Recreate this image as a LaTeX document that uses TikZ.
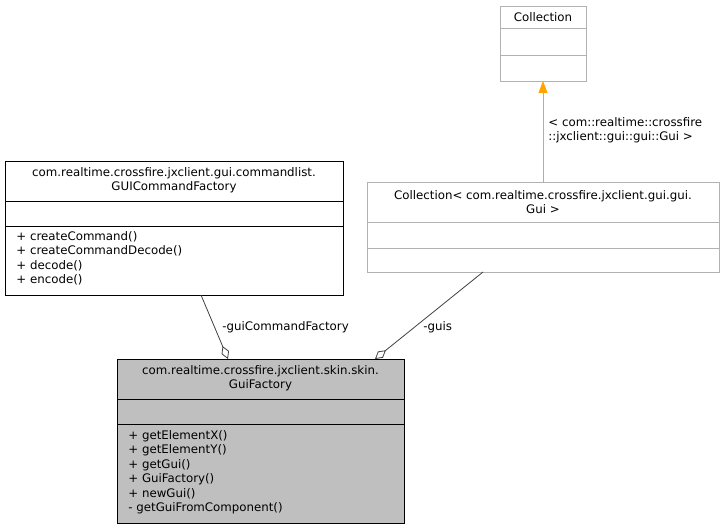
\documentclass[tikz,border=0pt]{standalone}
\usepackage{fontspec}
\setmainfont{DejaVu Sans}
\usetikzlibrary{arrows.meta}
\definecolor{inhorange}{HTML}{FFA500}
\tikzset{
  box/.style={draw, anchor=north west, inner sep=0pt, outer sep=0pt},
  txt/.style={font=\fontsize{11.8}{14.5}\selectfont, inner sep=0pt, align=center},
  mem/.style={font=\fontsize{11.8}{14.5}\selectfont, inner sep=0pt, align=left, anchor=north west},
  agg/.style={draw=black!75, line width=0.8pt, -{Diamond[open,length=14pt,width=8pt]}},
  inh/.style={draw=inhorange, line width=0.8pt, -{Triangle[length=12pt,width=9pt]}}
}
\begin{document}
\begin{tikzpicture}[x=1pt,y=-1pt,line width=0.9pt]
\useasboundingbox (0,0) rectangle (725,529);
% Collection
\node[box, draw=black!30, minimum width=86pt, minimum height=75pt] (coll) at (500,6) {};
\node[txt] (colltitle) at (543,17) {Collection};
\draw[black!30] (500,28) -- (586,28) (500,55) -- (586,55);
% Collection< Gui >
\node[box, draw=black!30, minimum width=352pt, minimum height=90pt] (collgui) at (367,182) {};
\node[txt] (colltitle2) at (543,202) {Collection< com.realtime.crossfire.jxclient.gui.gui.\\Gui >};
\draw[black!30] (367,222) -- (719,222) (367,248) -- (719,248);
% GUICommandFactory
\node[box, minimum width=338pt, minimum height=134pt] (cmdfac) at (5,161) {};
\node[txt] (cmdtitle) at (174,180) {com.realtime.crossfire.jxclient.gui.commandlist.\\GUICommandFactory};
\draw (5,201) -- (343,201) (5,226) -- (343,226);
\node[mem] (cmdops) at (16,231) {+ createCommand()\\+ createCommandDecode()\\+ decode()\\+ encode()};
% GuiFactory
\node[box, fill=black!25, minimum width=287pt, minimum height=164pt] (guifac) at (117,359) {};
\node[txt] (guititle) at (260.5,378) {com.realtime.crossfire.jxclient.skin.skin.\\GuiFactory};
\draw (117,399) -- (404,399) (117,424) -- (404,424);
\node[mem] (guiops) at (128,430) {+ getElementX()\\+ getElementY()\\+ getGui()\\+ GuiFactory()\\+ newGui()\\- getGuiFromComponent()};
% relations
\coordinate (cmdend) at (201,295);
\coordinate (cmdtip) at (228,359);
\coordinate (guisend) at (483,272);
\coordinate (guistip) at (375,359);
\draw[agg] (cmdend) -- (cmdtip);
\draw[agg] (guisend) -- (guistip);
\node[mem, anchor=west] (lblcmd) at (222,327) {-guiCommandFactory};
\node[mem, anchor=west] (lblguis) at (423,327) {-guis};
\draw[inh] (collgui.north -| coll.south) -- (coll.south);
\node[mem, anchor=west] (lbltpl) at (548,130) {< com::realtime::crossfire\\ ::jxclient::gui::gui::Gui >};
\end{tikzpicture}
\end{document}
